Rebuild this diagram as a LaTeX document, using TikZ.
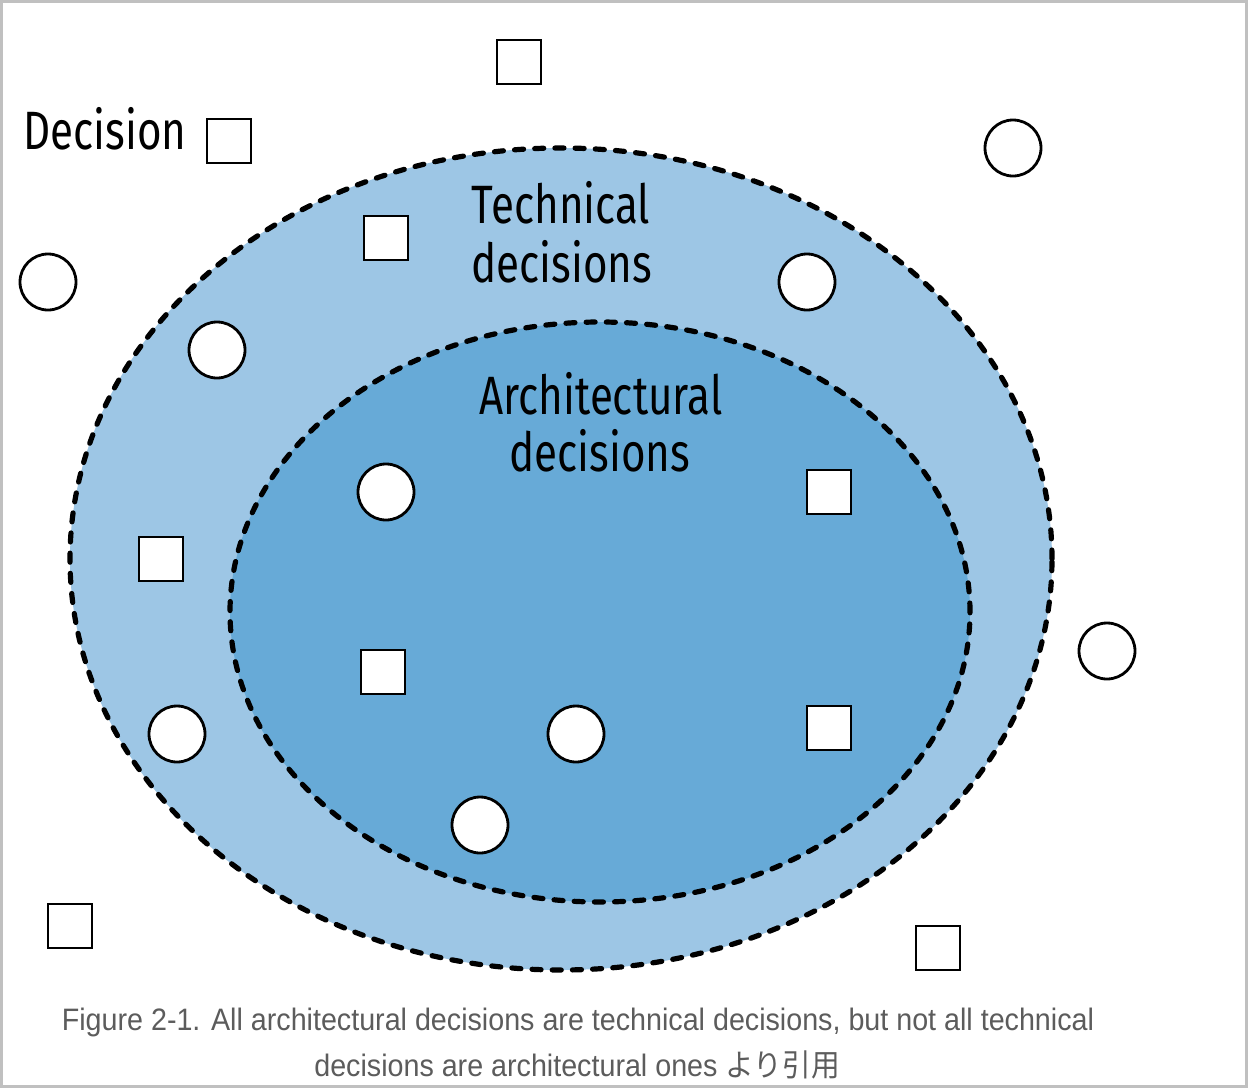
\documentclass[tikz,border=0pt]{standalone}
\usepackage{fontspec}
\usetikzlibrary{shapes.geometric}
\newfontfamily\handfont[FakeStretch=0.78]{Fira Sans}
\newfontfamily\capfont[FakeStretch=0.925]{Liberation Sans}
\newfontfamily\cjk[FakeStretch=0.925]{Noto Sans CJK JP}
\definecolor{outerblue}{RGB}{157,198,229}
\definecolor{innerblue}{RGB}{103,170,215}
\definecolor{capgray}{RGB}{92,92,92}
\definecolor{framegray}{RGB}{192,192,192}
\tikzset{
  region/.style={ellipse, draw=black, line width=2.6pt, line cap=round, dash pattern=on 4.5pt off 5.6pt, inner sep=0pt},
  sq/.style={draw=black, fill=white, line width=1.4pt, minimum size=22pt, inner sep=0pt},
  ci/.style={circle, draw=black, fill=white, line width=1.4pt, minimum size=28pt, inner sep=0pt},
  hand/.style={font=\handfont\fontsize{27}{28.5}\selectfont, inner sep=0pt, anchor=base},
  captext/.style={font=\capfont\fontsize{15.5}{18}\selectfont, text=capgray, inner sep=0pt, anchor=base}
}
\begin{document}
\begin{tikzpicture}[x=0.5pt,y=-0.5pt]
\useasboundingbox (0,0) rectangle (1248,1088);
\fill[white] (0,0) rectangle (1248,1088);
\draw[framegray, line width=1.5pt] (1.5,1.5) rectangle (1246.5,1086.5);
% regions
\node[region, fill=outerblue, minimum width=491pt, minimum height=411pt] (outer) at (561,559) {};
\node[region, fill=innerblue, minimum width=370pt, minimum height=290pt] (inner) at (600,612) {};
% labels
\node[hand] (declbl) at (105,149) {Decision};
\node[hand] (techlbl) at (561,223) {Technical};
\node[hand] (techlbl2) at (562,282) {decisions};
\node[hand] (archlbl) at (601,414) {Architectural};
\node[hand] (archlbl2) at (600,471) {decisions};
% squares
\node[sq] (s1) at (519,62) {};
\node[sq] (s2) at (229,141) {};
\node[sq] (s3) at (386,238) {};
\node[sq] (s4) at (161,559) {};
\node[sq] (s5) at (829,492) {};
\node[sq] (s6) at (383,672) {};
\node[sq] (s7) at (829,728) {};
\node[sq] (s8) at (70,926) {};
\node[sq] (s9) at (938,948) {};
% circles
\node[ci] (c1) at (1013,148) {};
\node[ci] (c2) at (48,282) {};
\node[ci] (c3) at (807,282) {};
\node[ci] (c4) at (217,350) {};
\node[ci] (c5) at (386,492) {};
\node[ci] (c6) at (1107,651) {};
\node[ci] (c7) at (177,734) {};
\node[ci] (c8) at (576,734) {};
\node[ci] (c9) at (480,825) {};
% caption
\node[captext] (cap1) at (578,1030) {Figure 2-1. All architectural decisions are technical decisions, but not all technical};
\node[captext] (cap2) at (577,1076) {decisions are architectural ones {\cjk より引用}};
\end{tikzpicture}
\end{document}
